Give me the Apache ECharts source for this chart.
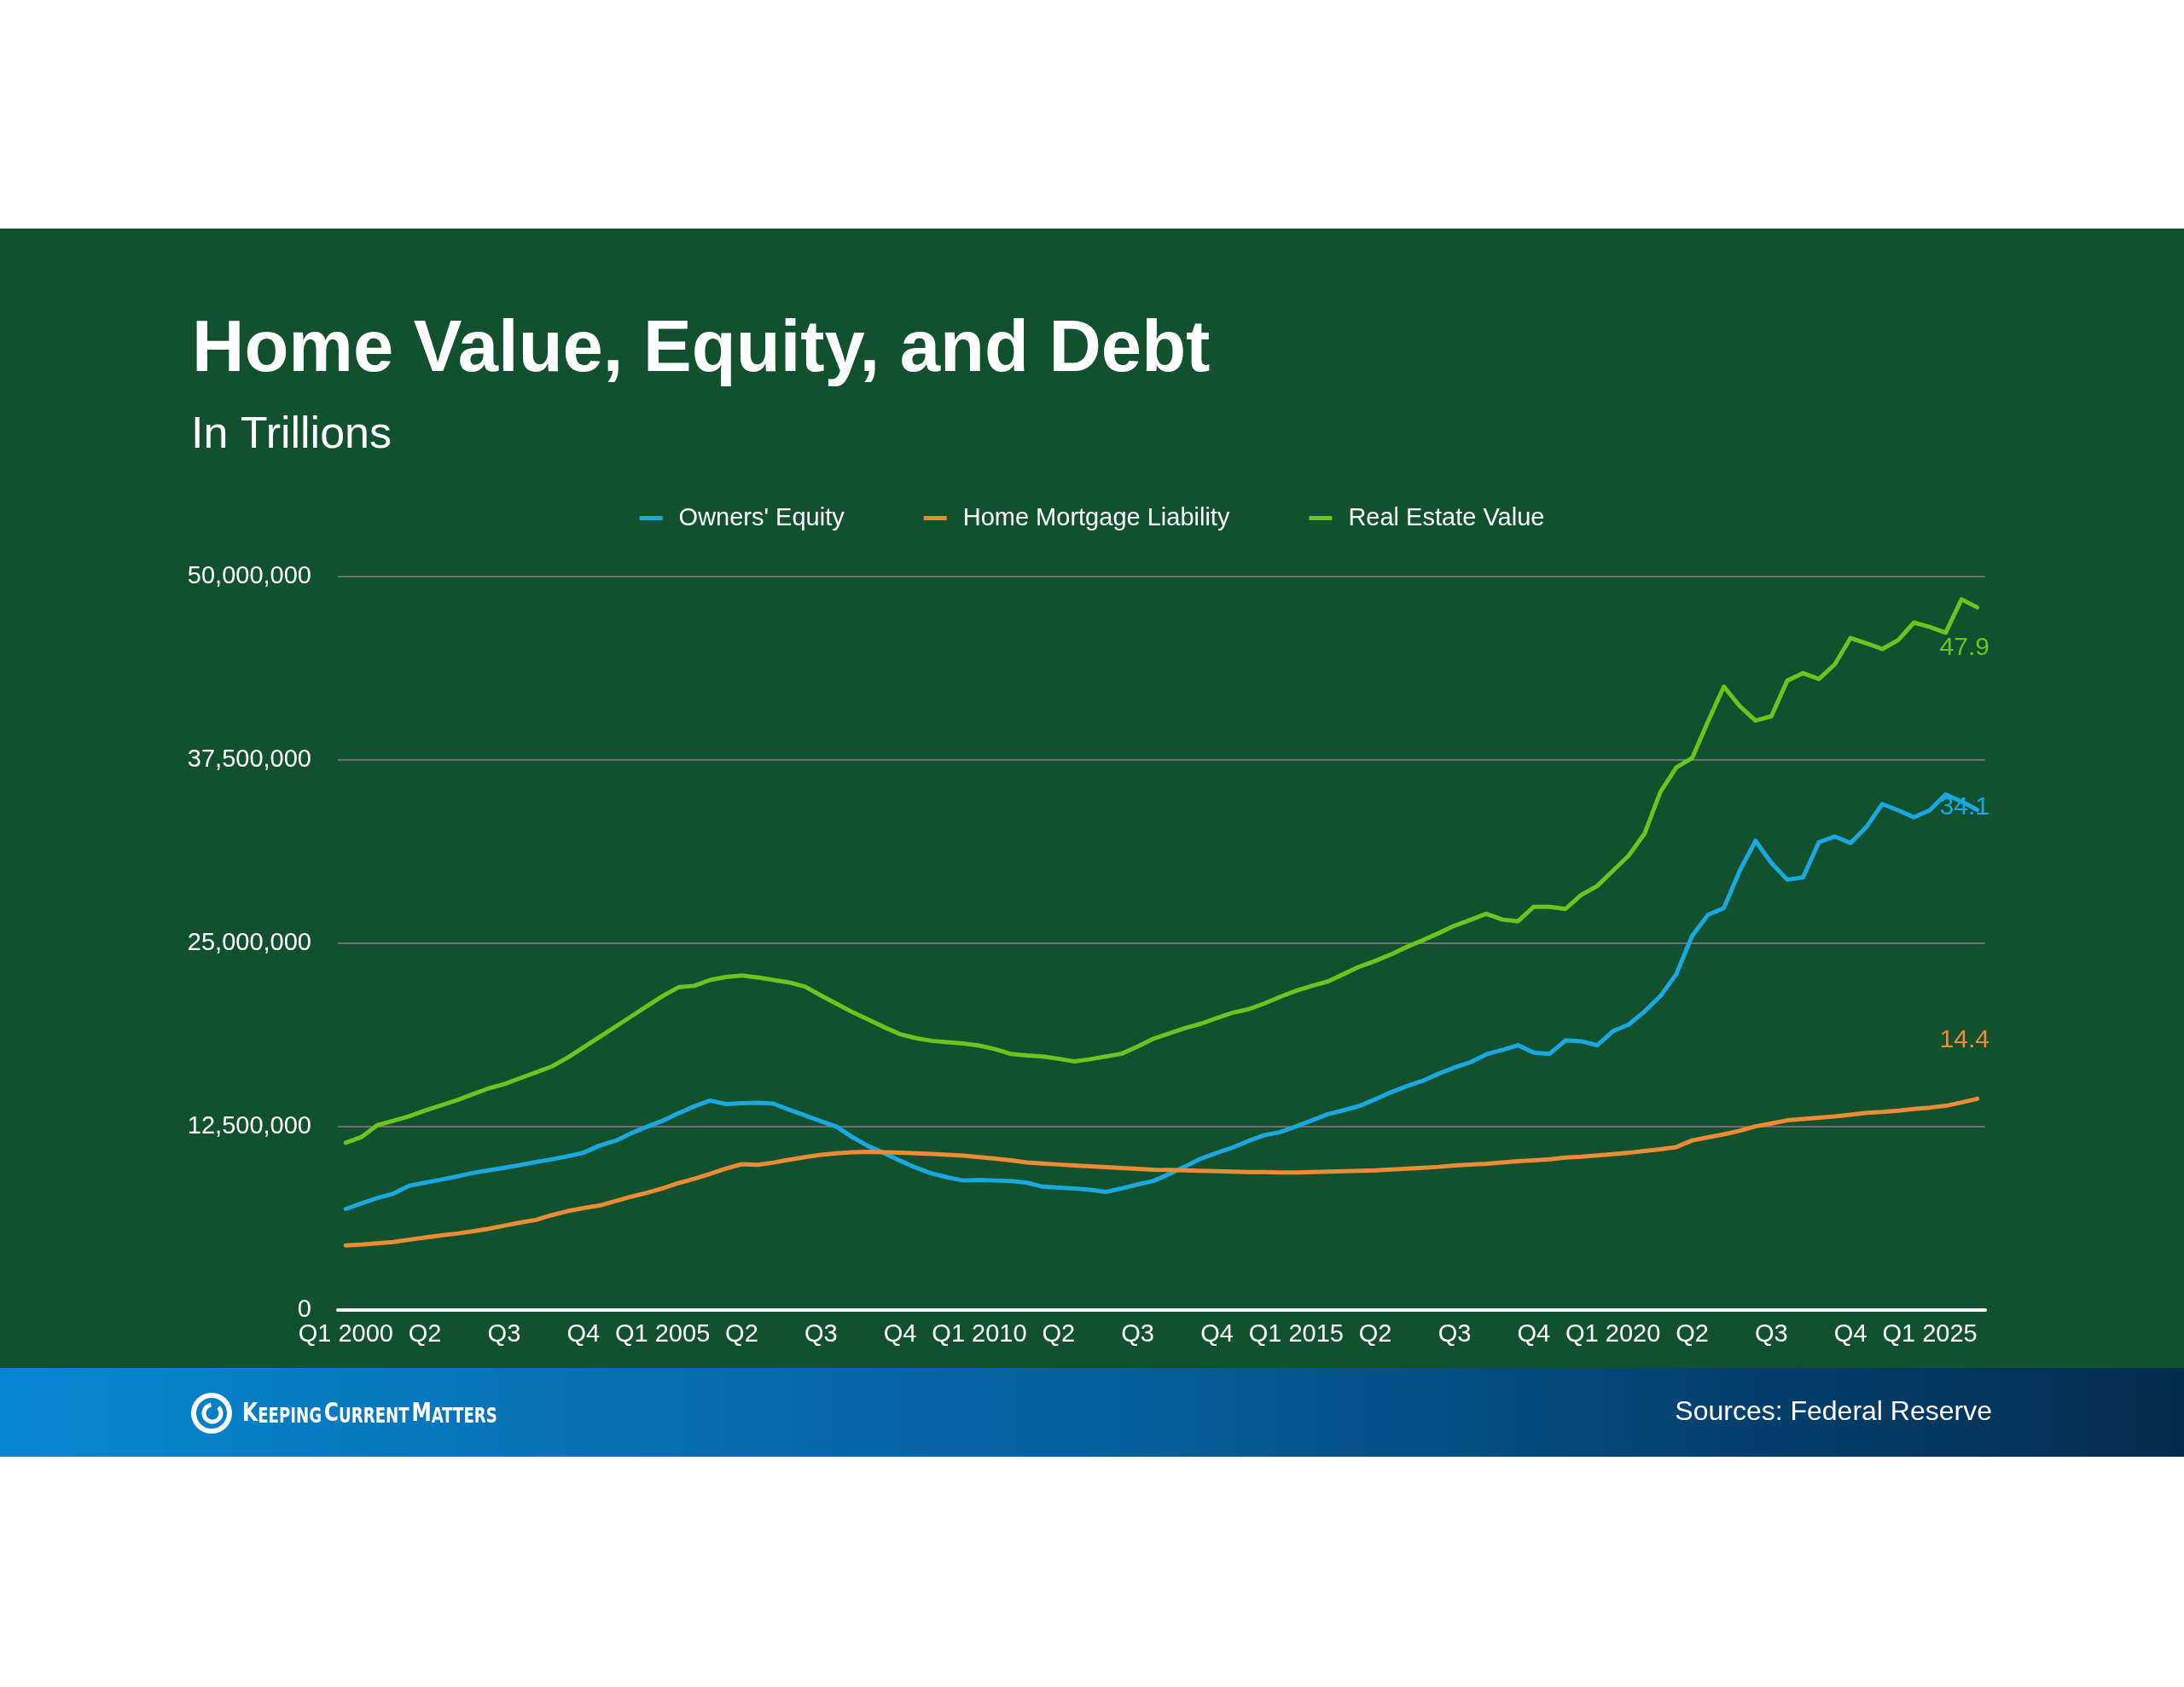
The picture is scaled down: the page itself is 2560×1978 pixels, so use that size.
<!DOCTYPE html>
<html>
<head>
<meta charset="utf-8">
<title>Home Value, Equity, and Debt</title>
<script src="https://cdn.jsdelivr.net/npm/echarts@6/dist/echarts.min.js"></script>
<style>
  html, body { margin: 0; padding: 0; background: #ffffff; }
  #chart { width: 2560px; height: 1978px; }
</style>
</head>
<body>
<div id="chart"></div>
<script>
// quarters Q1 2000 .. Q4 2025, only Q1 carries the year
const years = [2000, 2001, 2002, 2003, 2004, 2005, 2006, 2007, 2008, 2009, 2010, 2011, 2012,
  2013, 2014, 2015, 2016, 2017, 2018, 2019, 2020, 2021, 2022, 2023, 2024, 2025];
const quarterNames = ['Q1', 'Q2', 'Q3', 'Q4'];
const categories = [];
years.forEach(y => quarterNames.forEach((q, k) => categories.push(k === 0 ? q + ' ' + y : q)));

// values in trillions
const ownersEquity = [
  6.89, 7.28, 7.64, 7.93, 8.47, 8.68, 8.89, 9.1, 9.34, 9.52, 9.7, 9.88, 10.09, 10.27, 10.48, 10.72,
  11.2, 11.53, 12.04, 12.49, 12.9, 13.41, 13.89, 14.28, 14.04, 14.1,
  14.13, 14.07, 13.65, 13.26, 12.87, 12.49, 11.77, 11.17, 10.69, 10.18, 9.7, 9.31, 9.04, 8.83,
  8.86, 8.83, 8.8, 8.68, 8.41, 8.35, 8.29, 8.2, 8.05, 8.29, 8.56, 8.8,
  9.28, 9.79, 10.33, 10.72, 11.08, 11.53, 11.92, 12.13, 12.52, 12.93, 13.35, 13.62, 13.92, 14.37,
  14.85, 15.27, 15.63, 16.11, 16.53, 16.89, 17.43, 17.73, 18.05, 17.55, 17.46, 18.38,
  18.32, 18.05, 19.01, 19.46, 20.36, 21.41, 22.9, 25.51, 26.95, 27.4, 29.94, 31.98, 30.48, 29.34,
  29.49, 31.89, 32.28, 31.83, 32.93, 34.49, 34.07, 33.59, 34.07, 35.15, 34.67, 34.1
];
const mortgageLiability = [
  4.4, 4.46, 4.55, 4.64, 4.79, 4.94, 5.09, 5.21, 5.36, 5.54, 5.75, 5.96, 6.14, 6.47, 6.74, 6.95,
  7.12, 7.42, 7.72, 7.99, 8.29, 8.65, 8.95, 9.28, 9.64, 9.94,
  9.9, 10.05, 10.25, 10.42, 10.58, 10.68, 10.76, 10.78, 10.76, 10.72, 10.68, 10.64, 10.58, 10.52,
  10.42, 10.32, 10.2, 10.06, 9.98, 9.92, 9.86, 9.8, 9.74, 9.68, 9.62, 9.56,
  9.55, 9.52, 9.49, 9.46, 9.43, 9.4, 9.4, 9.37, 9.37, 9.4, 9.43, 9.46, 9.49, 9.52,
  9.58, 9.64, 9.7, 9.76, 9.85, 9.91, 9.97, 10.06, 10.15, 10.21, 10.27, 10.39,
  10.45, 10.54, 10.63, 10.72, 10.84, 10.96, 11.11, 11.56, 11.77, 11.98, 12.22, 12.52, 12.72, 12.93,
  13.02, 13.11, 13.2, 13.32, 13.44, 13.5, 13.59, 13.71, 13.8, 13.92, 14.15, 14.4
];
const realEstateValue = [
  11.4, 11.8, 12.6, 12.9, 13.2, 13.6, 13.95, 14.3, 14.7, 15.1, 15.4, 15.8, 16.2, 16.6, 17.2, 17.9,
  18.6, 19.3, 20.0, 20.7, 21.4, 22.0, 22.1, 22.5, 22.7, 22.8,
  22.67, 22.5, 22.33, 22.04, 21.44, 20.87, 20.3, 19.79, 19.28, 18.8, 18.53, 18.35, 18.26, 18.17,
  18.02, 17.78, 17.45, 17.36, 17.28, 17.13, 16.95, 17.1, 17.28, 17.48, 17.96, 18.5,
  18.86, 19.22, 19.52, 19.91, 20.27, 20.51, 20.9, 21.35, 21.77, 22.1, 22.4, 22.9, 23.41, 23.8,
  24.25, 24.76, 25.21, 25.69, 26.2, 26.59, 27.01, 26.62, 26.5, 27.49, 27.49, 27.34,
  28.3, 28.9, 29.94, 30.99, 32.49, 35.33, 36.98, 37.63, 40.12, 42.5, 41.17, 40.18, 40.48, 42.9,
  43.41, 43.02, 44.01, 45.81, 45.45, 45.06, 45.66, 46.86, 46.56, 46.17, 48.44, 47.9
];

const yMin = 0, yMax = 50, yStep = 12.5;
const FONT = "'Liberation Sans', Arial, Helvetica, sans-serif";
const NARROW = "'Liberation Sans Narrow', 'DejaVu Sans Condensed', " + FONT;

// line with a value label on its last point
function lineSeries(name, values, color, labelOffset) {
  const data = values.map((v, i) => {
    if (i < values.length - 1) return v;
    return {
      value: v,
      symbol: 'circle',
      symbolSize: 0.1,
      label: {
        show: true,
        position: 'inside',
        offset: labelOffset,
        formatter: p => p.value.toFixed(1),
        color: color,
        fontSize: 30,
        fontFamily: FONT
      }
    };
  });
  return {
    name: name,
    type: 'line',
    data: data,
    symbol: 'none',
    showSymbol: true,
    showAllSymbol: true,
    color: color,
    lineStyle: { width: 5, color: color, cap: 'round', join: 'round' },
    emphasis: { disabled: true },
    animation: false
  };
}

const chart = echarts.init(document.getElementById('chart'));
chart.setOption({
  animation: false,
  backgroundColor: '#ffffff',
  graphic: [
    { type: 'rect', z: -10, shape: { x: 0, y: 268, width: 2560, height: 1336 }, style: { fill: '#12512e' } },
    {
      type: 'rect', z: -10, shape: { x: 0, y: 1604, width: 2560, height: 104 },
      style: {
        fill: new echarts.graphic.LinearGradient(0, 0, 1, 0, [
          { offset: 0, color: '#0786d0' },
          { offset: 0.5, color: '#075f9c' },
          { offset: 1, color: '#032b4e' }
        ])
      }
    },
    // logo mark
    { type: 'circle', shape: { cx: 248, cy: 1657, r: 21 }, style: { fill: 'none', stroke: '#ffffff', lineWidth: 6 } },
    { type: 'arc', shape: { cx: 249, cy: 1657, r: 10, startAngle: -Math.PI * 0.25, endAngle: Math.PI * 1.45 }, style: { fill: 'none', stroke: '#ffffff', lineWidth: 5 } },
    {
      type: 'text', x: 284, y: 1658, scaleX: 0.84,
      style: {
        text: '{b|K}{s|EEPING} {b|C}{s|URRENT} {b|M}{s|ATTERS}',
        verticalAlign: 'middle',
        fill: '#ffffff',
        rich: {
          b: { fontSize: 31, fontFamily: NARROW, fontWeight: 'bold', fill: '#ffffff', verticalAlign: 'bottom' },
          s: { fontSize: 24, fontFamily: NARROW, fontWeight: 'bold', fill: '#ffffff', verticalAlign: 'bottom' }
        }
      }
    },
    {
      type: 'text', x: 2335, y: 1656,
      style: { text: 'Sources: Federal Reserve', align: 'right', verticalAlign: 'middle', fill: '#ffffff', fontSize: 32, fontFamily: FONT }
    }
  ],
  title: [
    { text: 'Home Value, Equity, and Debt', left: 220, top: 364, textStyle: { color: '#ffffff', fontSize: 85, fontWeight: 'bold', fontFamily: FONT } },
    { text: 'In Trillions', left: 219, top: 480, textStyle: { color: '#ffffff', fontSize: 52, fontWeight: 'normal', fontFamily: FONT } }
  ],
  legend: {
    left: 'center',
    top: 588,
    icon: 'rect',
    itemWidth: 27,
    itemHeight: 5,
    itemGap: 93,
    textStyle: { color: '#ffffff', fontSize: 29, fontFamily: FONT, padding: [0, 0, 0, 14] },
    data: ["Owners' Equity", 'Home Mortgage Liability', 'Real Estate Value']
  },
  grid: { left: 396, right: 233, top: 676, bottom: 442 },
  xAxis: {
    type: 'category',
    data: categories,
    boundaryGap: true,
    axisLine: { lineStyle: { color: '#ffffff', width: 4 } },
    axisTick: { show: false },
    axisLabel: { interval: 4, color: '#ffffff', fontSize: 29, fontFamily: FONT, margin: 14 },
    splitLine: { show: false }
  },
  yAxis: {
    type: 'value',
    min: yMin,
    max: yMax,
    interval: yStep,
    axisLine: { show: false },
    axisTick: { show: false },
    axisLabel: {
      color: '#ffffff', fontSize: 29, fontFamily: FONT, margin: 31,
      formatter: v => Math.round(v * 1e6).toLocaleString('en-US')
    },
    splitLine: { lineStyle: { color: '#707070', width: 2 } }
  },
  series: [
    lineSeries("Owners' Equity", ownersEquity, '#19a8e2', [-15, -3]),
    lineSeries('Home Mortgage Liability', mortgageLiability, '#ee8b35', [-15, -69]),
    lineSeries('Real Estate Value', realEstateValue, '#6cc51f', [-15, 48])
  ]
});
</script>
</body>
</html>
